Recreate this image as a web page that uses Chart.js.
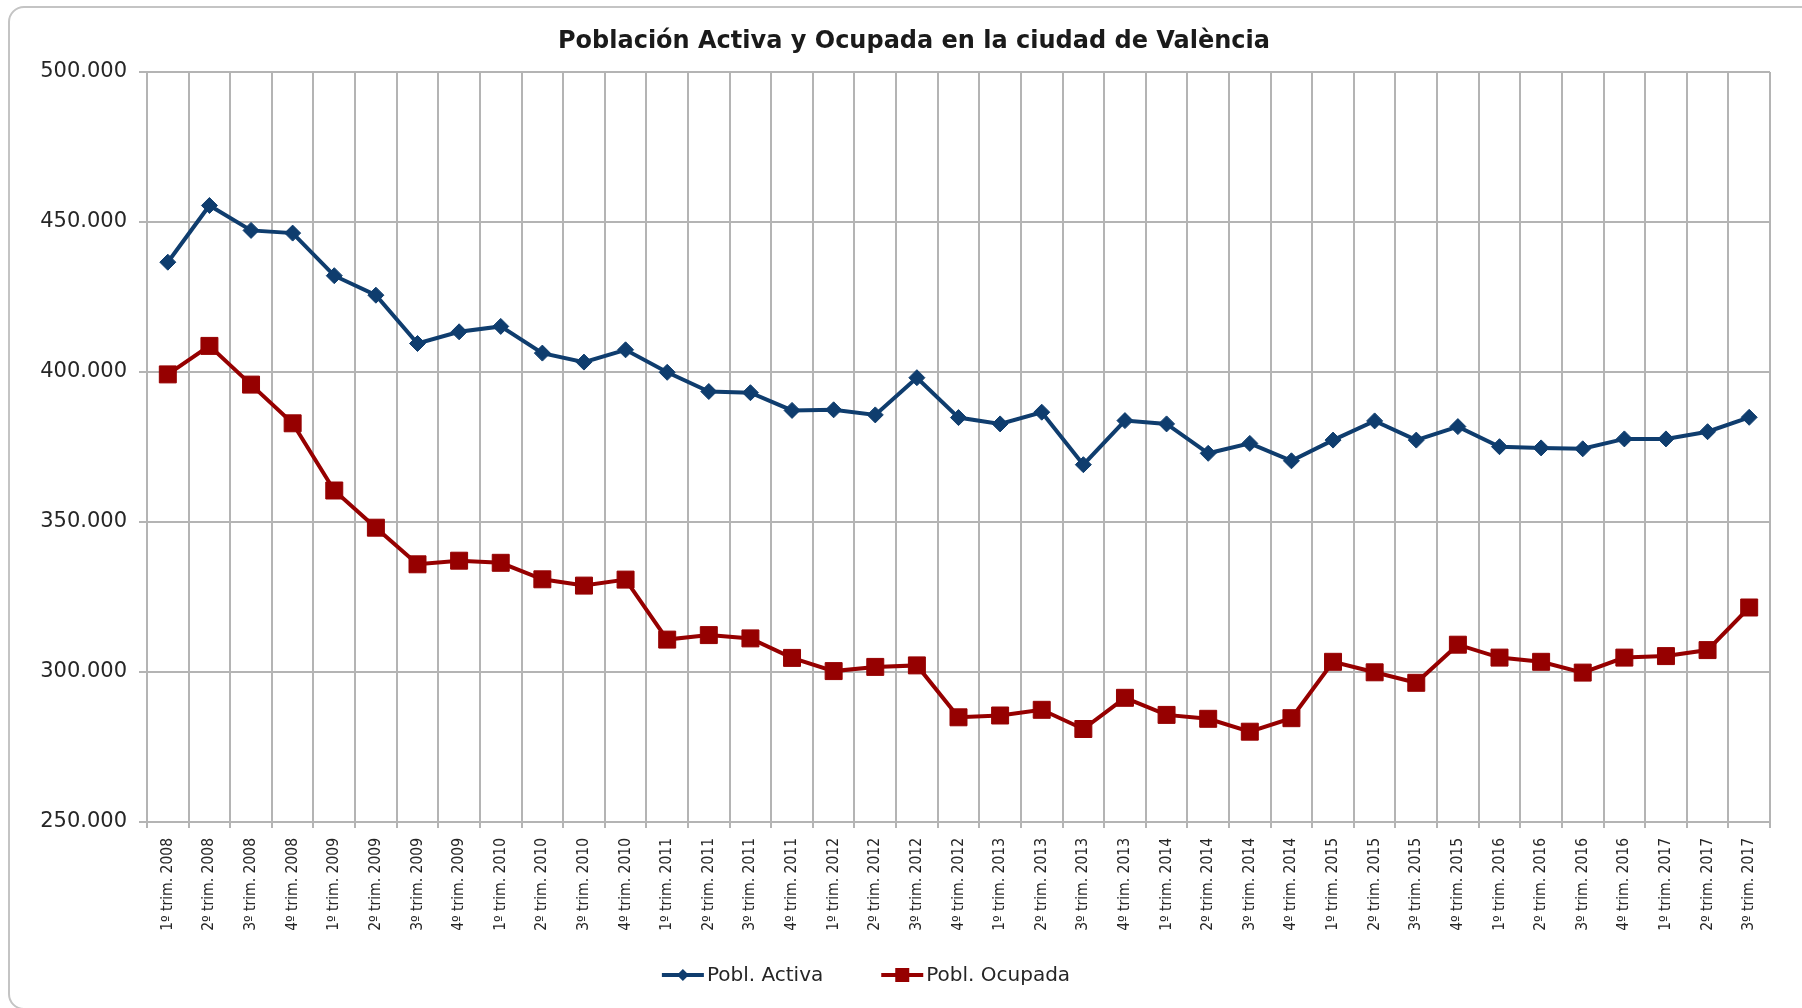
<!DOCTYPE html>
<html>
<head>
<meta charset="utf-8">
<script src="https://cdn.jsdelivr.net/npm/chart.js@4.4.1/dist/chart.umd.min.js"></script>
<style>
  html, body { margin: 0; padding: 0; background: #fff; overflow: hidden; }
  #frame {
    position: absolute; left: 8px; top: 6px;
    width: 1808px; height: 1000px;
    border: 2px solid #c4c4c4; border-radius: 16px; background: #fff;
  }
  #wrap { position: absolute; left: 0; top: 0; width: 1808px; height: 1000px; }
</style>
</head>
<body>
<div id="frame"><div id="wrap"><canvas id="chart"></canvas></div></div>
<script>
const TITLE = 'Población Activa y Ocupada en la ciudad de València';

const LABELS = [
  '1º trim. 2008', '2º trim. 2008', '3º trim. 2008', '4º trim. 2008',
  '1º trim. 2009', '2º trim. 2009', '3º trim. 2009', '4º trim. 2009',
  '1º trim. 2010', '2º trim. 2010', '3º trim. 2010', '4º trim. 2010',
  '1º trim. 2011', '2º trim. 2011', '3º trim. 2011', '4º trim. 2011',
  '1º trim. 2012', '2º trim. 2012', '3º trim. 2012', '4º trim. 2012',
  '1º trim. 2013', '2º trim. 2013', '3º trim. 2013', '4º trim. 2013',
  '1º trim. 2014', '2º trim. 2014', '3º trim. 2014', '4º trim. 2014',
  '1º trim. 2015', '2º trim. 2015', '3º trim. 2015', '4º trim. 2015',
  '1º trim. 2016', '2º trim. 2016', '3º trim. 2016', '4º trim. 2016',
  '1º trim. 2017', '2º trim. 2017', '3º trim. 2017',
];

const POBL_ACTIVA = [
  436600, 455500, 447200, 446300,
  432100, 425600, 409500, 413400,
  415200, 406300, 403300, 407400,
  399900, 393500, 393100, 387200,
  387400, 385700, 398100, 384800,
  382700, 386600, 369100, 383800,
  382700, 372900, 376200, 370400,
  377300, 383700, 377300, 381800,
  375100, 374700, 374400, 377700,
  377700, 380100, 384900,
];

const POBL_OCUPADA = [
  399200, 408700, 395800, 382900,
  360500, 348100, 335900, 337100,
  336400, 330900, 328800, 330800,
  310800, 312300, 311200, 304700,
  300300, 301700, 302200, 284900,
  285500, 287400, 281000, 291400,
  285700, 284400, 280100, 284600,
  303400, 299900, 296400, 309100,
  304800, 303400, 299800, 304800,
  305300, 307300, 321500,
];

const Y_MIN = 250000;
const Y_MAX = 500000;
const Y_STEP = 50000;

const BLUE = '#0f3d6e';
const RED = '#960000';
const GRID = '#b4b4b4';
const TEXT = '#262626';

function thousands(v) {
  return String(v).replace(/\B(?=(\d{3})+(?!\d))/g, '.');
}

// title centred on the whole frame, and a legend of line + marker
const frameText = {
  id: 'frameText',
  afterDraw(chart) {
    const ctx = chart.ctx;
    ctx.save();
    ctx.fillStyle = '#1a1a1a';
    ctx.font = 'bold 24px "DejaVu Sans"';
    ctx.textAlign = 'center';
    ctx.textBaseline = 'middle';
    ctx.fillText(TITLE, chart.width / 2, 34);

    const items = chart.data.datasets.map((ds) => ({ text: ds.label, color: ds.borderColor, style: ds.pointStyle }));
    ctx.font = '20px "DejaVu Sans"';
    const symW = 42, gap = 3, itemGap = 58;
    const widths = items.map((it) => symW + gap + ctx.measureText(it.text).width);
    const total = widths.reduce((a, b) => a + b, 0) + itemGap * (items.length - 1);
    let x = chart.width / 2 - 48 - total / 2;
    const y = 967;
    items.forEach((it, i) => {
      ctx.strokeStyle = it.color;
      ctx.fillStyle = it.color;
      ctx.lineWidth = 4;
      ctx.beginPath();
      ctx.moveTo(x, y);
      ctx.lineTo(x + symW, y);
      ctx.stroke();
      const cx = x + symW / 2;
      ctx.beginPath();
      if (it.style === 'rectRot') {
        ctx.moveTo(cx, y - 6); ctx.lineTo(cx + 6, y); ctx.lineTo(cx, y + 6); ctx.lineTo(cx - 6, y);
        ctx.closePath();
      } else {
        ctx.rect(cx - 7, y - 7, 14, 14);
      }
      ctx.fill();
      ctx.fillStyle = TEXT;
      ctx.textAlign = 'left';
      ctx.fillText(it.text, x + symW + gap, y + 1);
      x += widths[i] + itemGap;
    });
    ctx.restore();
  },
};

new Chart(document.getElementById('chart'), {
  type: 'line',
  data: {
    labels: LABELS,
    datasets: [
      {
        label: 'Pobl. Activa',
        data: POBL_ACTIVA,
        borderColor: BLUE,
        backgroundColor: BLUE,
        borderWidth: 4,
        pointStyle: 'rectRot',
        pointRadius: 8,
        pointBorderWidth: 1,
        tension: 0,
      },
      {
        label: 'Pobl. Ocupada',
        data: POBL_OCUPADA,
        borderColor: RED,
        backgroundColor: RED,
        borderWidth: 4,
        pointStyle: 'rect',
        pointRadius: 12,
        pointBorderWidth: 1,
        tension: 0,
      },
    ],
  },
  options: {
    responsive: true,
    maintainAspectRatio: false,
    animation: false,
    layout: { padding: { left: 19, right: 48, top: 64, bottom: 76 } },
    plugins: {
      legend: { display: false },
      tooltip: { enabled: false },
      title: { display: false },
    },
    scales: {
      x: {
        offset: true,
        grid: { offset: true, color: GRID, lineWidth: 2, tickLength: 6, drawTicks: true },
        border: { color: GRID, width: 2 },
        ticks: {
          autoSkip: false,
          minRotation: 90,
          maxRotation: 90,
          padding: 10,
          color: TEXT,
          font: { family: '"DejaVu Sans Condensed", "DejaVu Sans"', size: 15.5 },
        },
        afterFit(scale) { scale.height = 110; },
      },
      y: {
        min: Y_MIN,
        max: Y_MAX,
        grid: { color: GRID, lineWidth: 2, tickLength: 8 },
        border: { color: GRID, width: 2 },
        ticks: {
          stepSize: Y_STEP,
          padding: 12,
          color: TEXT,
          font: { family: '"DejaVu Sans"', size: 21 },
          callback: (v) => thousands(v),
        },
        afterFit(scale) { scale.width = 118; },
      },
    },
  },
  plugins: [frameText],
});
</script>
</body>
</html>
